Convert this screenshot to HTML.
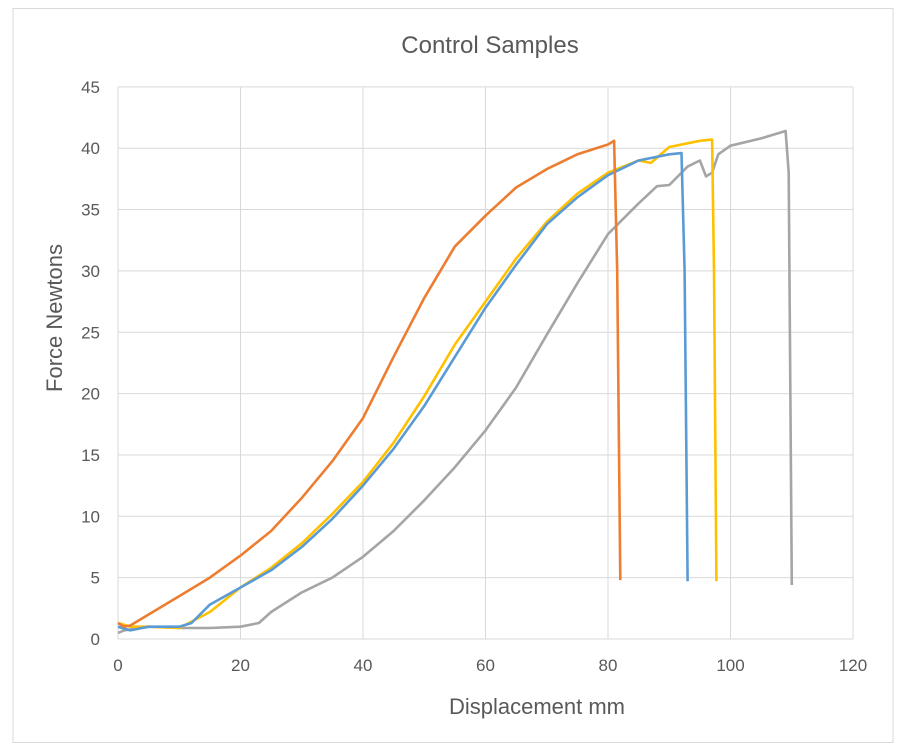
<!DOCTYPE html>
<html><head><meta charset="utf-8"><style>
body{margin:0;background:#fff}
svg{display:block;font-family:"Liberation Sans",sans-serif}
</style></head><body>
<svg id="s" width="904" height="756" xmlns="http://www.w3.org/2000/svg">
<rect x="0" y="0" width="904" height="756" fill="#fff"/>
<rect x="13" y="8.5" width="880" height="734" fill="none" stroke="#d9d9d9" stroke-width="1"/>
<text x="490" y="53" font-size="24" fill="#595959" text-anchor="middle">Control Samples</text>
<g id="grid"></g>
<text transform="translate(62,318) rotate(-90)" font-size="22" fill="#595959" text-anchor="middle">Force Newtons</text>
<text x="537" y="714" font-size="22" fill="#595959" text-anchor="middle">Displacement mm</text>
<g id="lines" fill="none" stroke-width="2.6" stroke-linejoin="round"></g>
</svg>
<script>
var X=function(v){return 118+v*6.125},Y=function(v){return 639-v*12.27};
var g=document.getElementById('grid'),h='';
for(var i=0;i<=45;i+=5){var y=Y(i);h+='<line x1="118" x2="853" y1="'+y+'" y2="'+y+'" stroke="#d9d9d9"/>';h+='<text x="100" y="'+(y+6)+'" font-size="17" fill="#595959" text-anchor="end">'+i+'</text>';}
for(var j=0;j<=120;j+=20){var x=X(j);h+='<line y1="'+Y(45)+'" y2="639" x1="'+x+'" x2="'+x+'" stroke="#d9d9d9"/>';h+='<text x="'+x+'" y="671" font-size="17" fill="#595959" text-anchor="middle">'+j+'</text>';}
g.innerHTML=h;
var S={
"#ed7d31":[[0,1.3],[1,1],[2,1.1],[5,2],[10,3.5],[15,5],[20,6.8],[25,8.8],[30,11.5],[35,14.5],[40,18],[45,23],[50,27.8],[55,32],[60,34.5],[65,36.8],[70,38.3],[75,39.5],[80,40.3],[81,40.6],[81.5,30],[82,4.8]],
"#5b9bd5":[[0,1],[2,0.7],[5,1],[10,1],[12,1.3],[15,2.8],[20,4.2],[25,5.6],[30,7.5],[35,9.8],[40,12.5],[45,15.5],[50,19],[55,23],[60,27],[65,30.5],[70,33.8],[75,36],[80,37.8],[85,39],[90,39.5],[92,39.6],[92.5,30],[93,4.7]],
"#ffc000":[[0,1.3],[2,1],[5,1],[10,0.9],[15,2.2],[20,4.2],[25,5.8],[30,7.8],[35,10.2],[40,12.8],[45,16],[50,19.8],[55,24],[60,27.5],[65,31],[70,34],[75,36.3],[80,38],[85,39],[87,38.8],[90,40.1],[95,40.6],[97,40.7],[97.3,30],[97.7,4.7]],
"#a5a5a5":[[0,0.5],[1,0.7],[5,1],[10,0.9],[15,0.9],[20,1],[23,1.3],[25,2.2],[30,3.8],[35,5],[40,6.7],[45,8.8],[50,11.3],[55,14],[60,17],[65,20.5],[70,24.8],[75,29],[80,33],[85,35.5],[88,36.9],[90,37],[93,38.5],[95,39],[96,37.7],[97,38],[98,39.5],[100,40.2],[105,40.8],[109,41.4],[109.5,38],[110,4.4]]};
var L='';["#a5a5a5","#ffc000","#5b9bd5","#ed7d31"].forEach(function(c){L+='<polyline stroke="'+c+'" points="'+S[c].map(function(p){return X(p[0]).toFixed(1)+','+Y(p[1]).toFixed(1)}).join(' ')+'"/>';});
document.getElementById('lines').innerHTML=L;
</script>
</body></html>
